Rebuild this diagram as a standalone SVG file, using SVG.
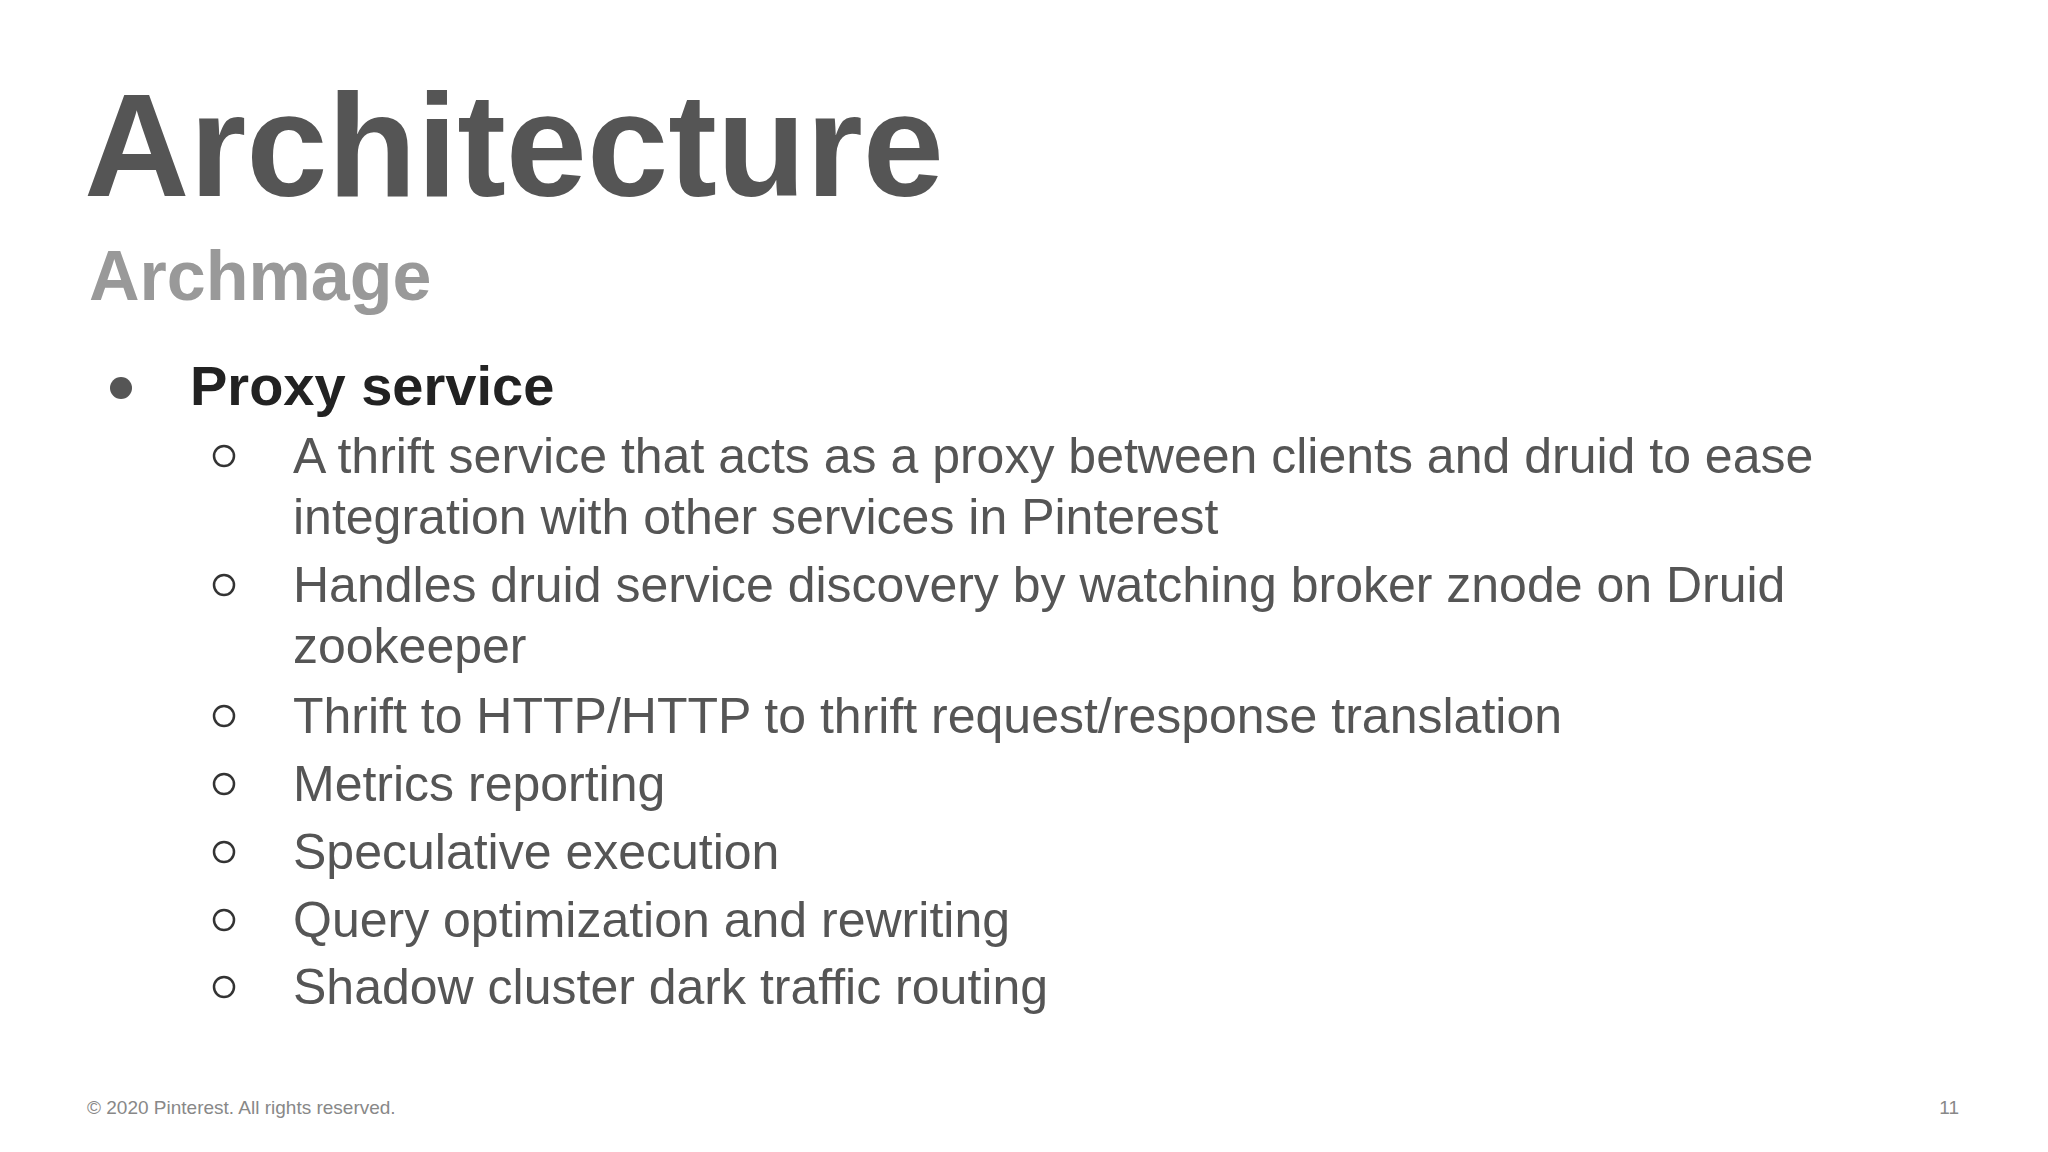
<svg xmlns="http://www.w3.org/2000/svg" width="2048" height="1152" viewBox="0 0 2048 1152">
<style>
text{font-family:"Liberation Sans",Arial,sans-serif}
.t{font-size:146px;font-weight:bold;fill:#555}
.s{font-size:70px;font-weight:bold;fill:#999}
.p{font-size:56px;font-weight:bold;fill:#222}
.i{font-size:50px;fill:#555}
.c{fill:none;stroke:#333;stroke-width:2.5}
.f{font-size:19px;fill:#888}
</style>
<rect width="2048" height="1152" fill="#fff"/>
<g id="title"><text class="t" x="84" y="196">Architecture</text></g>
<g id="subtitle"><text class="s" x="89" y="300">Archmage</text></g>
<g id="proxy">
<circle cx="121" cy="388" r="11" fill="#555"/>
<text class="p" x="190" y="405">Proxy service</text>
</g>
<g id="items">
<circle class="c" cx="224" cy="456" r="10"/>
<text class="i" x="293" y="473">A thrift service that acts as a proxy between clients and druid to ease</text>
<text class="i" x="293" y="534">integration with other services in Pinterest</text>
<circle class="c" cx="224" cy="585" r="10"/>
<text class="i" x="293" y="602">Handles druid service discovery by watching broker znode on Druid</text>
<text class="i" x="293" y="663">zookeeper</text>
<circle class="c" cx="224" cy="716" r="10"/>
<text class="i" x="293" y="733">Thrift to HTTP/HTTP to thrift request/response translation</text>
<circle class="c" cx="224" cy="784" r="10"/>
<text class="i" x="293" y="801">Metrics reporting</text>
<circle class="c" cx="224" cy="852" r="10"/>
<text class="i" x="293" y="869">Speculative execution</text>
<circle class="c" cx="224" cy="920" r="10"/>
<text class="i" x="293" y="937">Query optimization and rewriting</text>
<circle class="c" cx="224" cy="987" r="10"/>
<text class="i" x="293" y="1004">Shadow cluster dark traffic routing</text>
</g>
<g id="footer">
<text class="f" x="87" y="1114">© 2020 Pinterest. All rights reserved.</text>
<text class="f" x="1959" y="1114" text-anchor="end">11</text>
</g>
</svg>
